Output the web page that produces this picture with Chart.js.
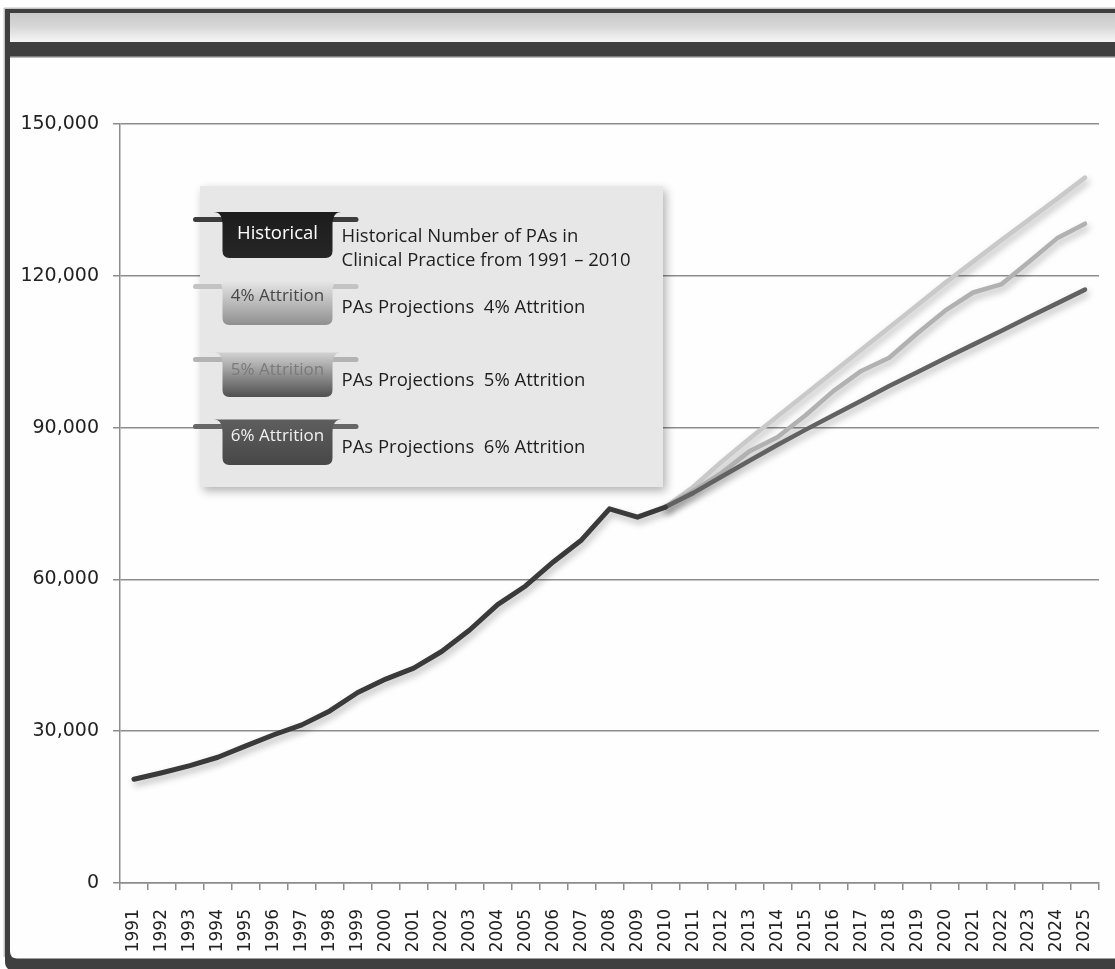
<!DOCTYPE html>
<html>
<head>
<meta charset="utf-8">
<script src="https://cdn.jsdelivr.net/npm/chart.js@4.4.1/dist/chart.umd.min.js"></script>
<style>
html,body{margin:0;padding:0;background:#fff;overflow:hidden}
#wrap{width:1115px;height:969px;position:relative}
</style>
</head>
<body>
<div id="wrap"><canvas id="c" width="1115" height="969"></canvas></div>
<script>
// ---- data ----
const years = ['1991','1992','1993','1994','1995','1996','1997','1998','1999','2000',
  '2001','2002','2003','2004','2005','2006','2007','2008','2009','2010',
  '2011','2012','2013','2014','2015','2016','2017','2018','2019','2020',
  '2021','2022','2023','2024','2025'];
// 1991 - 2010
const historicalValues = [20500, 21800, 23200, 24850, 27100, 29300, 31250, 34000, 37650, 40300,
  42450, 45750, 50000, 55000, 58700, 63500, 67800, 73950, 72300, 74300];
// 2010 - 2025
const projection4 = [74300, 78300, 83200, 87800, 92200, 96600, 101000, 105400, 109800, 114200,
  118600, 122800, 127000, 131100, 135200, 139400];
const projection5 = [74300, 77500, 81000, 85300, 88100, 92400, 97200, 101200, 103800, 108600,
  113100, 116700, 118300, 122800, 127400, 130300];
const projection6 = [74300, 77100, 80300, 83450, 86550, 89550, 92450, 95300, 98200, 100950,
  103700, 106400, 109100, 111850, 114550, 117270];
const yTicks = [0, 30000, 60000, 90000, 120000, 150000];
const legendTags = ['Historical', '4% Attrition', '5% Attrition', '6% Attrition'];
const legendTexts = [
  ['Historical Number of PAs in', 'Clinical Practice from 1991 \u2013 2010'],
  ['PAs Projections  4% Attrition'],
  ['PAs Projections  5% Attrition'],
  ['PAs Projections  6% Attrition']
];

// ---- build library data ----
const startIdx = years.indexOf('2010');
function pad(vals, start) {
  return years.map((y, i) => (i >= start && i - start < vals.length) ? vals[i - start] : null);
}
const histData = pad(historicalValues, 0);
const p4Data = pad(projection4, startIdx);
const p5Data = pad(projection5, startIdx);
const p6Data = pad(projection6, startIdx);

const W = 1115, H = 969;

const framePlugin = {
  id: 'frame',
  beforeDraw(chart) {
    const ctx = chart.ctx;
    ctx.save();
    ctx.fillStyle = '#ffffff';
    ctx.fillRect(0, 0, W, H);
    // faint outer edge
    ctx.fillStyle = '#c4c4c4';
    ctx.fillRect(4, 7.5, W, 1.5);
    ctx.fillRect(3.5, 8, 1.5, H - 20);
    // dark frame
    ctx.fillStyle = '#3f3f3f';
    ctx.beginPath();
    ctx.moveTo(5, 9);
    ctx.lineTo(W + 20, 9);
    ctx.lineTo(W + 20, H + 2);
    ctx.lineTo(15, H + 2);
    ctx.quadraticCurveTo(5, H + 2, 5, H - 8);
    ctx.closePath();
    ctx.fill();
    // gradient band
    const g = ctx.createLinearGradient(0, 13, 0, 42);
    g.addColorStop(0, '#c9c9c9');
    g.addColorStop(0.45, '#d6d6d6');
    g.addColorStop(1, '#f6f6f6');
    ctx.fillStyle = g;
    ctx.fillRect(10, 13, W, 29);
    // inner white area
    ctx.fillStyle = '#bdbdbd';
    ctx.fillRect(10, 56.5, W, 1.5);
    ctx.fillStyle = '#fefefe';
    ctx.beginPath();
    ctx.moveTo(10, 58);
    ctx.lineTo(W + 5, 58);
    ctx.lineTo(W + 5, 958.5);
    ctx.lineTo(17, 958.5);
    ctx.quadraticCurveTo(10, 958.5, 10, 951);
    ctx.closePath();
    ctx.fill();
    ctx.restore();
  }
};

const shadowPlugin = {
  id: 'lineShadow',
  beforeDatasetsDraw(chart) {
    const ctx = chart.ctx;
    ctx.save();
    ctx.shadowColor = 'rgba(0,0,0,0.28)';
    ctx.shadowBlur = 7;
    ctx.shadowOffsetX = 2;
    ctx.shadowOffsetY = 4;
  },
  afterDatasetsDraw(chart) {
    chart.ctx.restore();
  }
};

function potPath(ctx, L, R, top, bottom) {
  const r = 7;
  ctx.beginPath();
  ctx.moveTo(L - 9, top);
  ctx.lineTo(R + 9, top);
  ctx.quadraticCurveTo(R, top, R, top + 13);
  ctx.lineTo(R, bottom - r);
  ctx.quadraticCurveTo(R, bottom, R - r, bottom);
  ctx.lineTo(L + r, bottom);
  ctx.quadraticCurveTo(L, bottom, L, bottom - r);
  ctx.lineTo(L, top + 13);
  ctx.quadraticCurveTo(L, top, L - 9, top);
  ctx.closePath();
}

const legendPlugin = {
  id: 'potLegend',
  afterDraw(chart) {
    const ctx = chart.ctx;
    ctx.save();
    // legend box with shadow
    ctx.shadowColor = 'rgba(0,0,0,0.3)';
    ctx.shadowBlur = 9;
    ctx.shadowOffsetX = 3;
    ctx.shadowOffsetY = 4;
    ctx.fillStyle = '#e7e7e8';
    ctx.fillRect(200, 186, 463, 301);
    ctx.restore();

    const items = [
      {hy: 219.5, top: 212, bottom: 258, handle: '#3c3c3c', c1: '#1c1c1c', c2: '#262626', tc: '#ffffff', tb: 238.5, lb: [241.5, 266]},
      {hy: 286.5, top: 279.5, bottom: 325, handle: '#c3c3c3', c1: '#e9e9e9', c2: '#8f8f8f', tc: '#474747', tb: 301, lb: [313]},
      {hy: 359.5, top: 352.5, bottom: 397, handle: '#b3b3b3', c1: '#d2d2d2', c2: '#505050', tc: '#7a7a7a', tb: 375, lb: [386]},
      {hy: 426.5, top: 419.5, bottom: 465, handle: '#676767', c1: '#5e5e5e', c2: '#474747', tc: '#f2f2f2', tb: 441, lb: [453]}
    ];
    const L = 222.5, R = 332.5;
    items.forEach((it, i) => {
      // handle bar
      ctx.save();
      ctx.strokeStyle = it.handle;
      ctx.lineWidth = 5;
      ctx.lineCap = 'round';
      ctx.beginPath();
      ctx.moveTo(195.5, it.hy);
      ctx.lineTo(356, it.hy);
      ctx.stroke();
      // pot body
      const gr = ctx.createLinearGradient(0, it.top, 0, it.bottom);
      gr.addColorStop(0, it.c1);
      gr.addColorStop(1, it.c2);
      ctx.fillStyle = gr;
      potPath(ctx, L, R, it.top, it.bottom);
      ctx.fill();
      // tag text
      ctx.fillStyle = it.tc;
      ctx.font = (i === 0 ? '18.5px' : '17px') + ' "Open Sans", sans-serif';
      ctx.textAlign = 'center';
      ctx.textBaseline = 'alphabetic';
      ctx.fillText(legendTags[i], 277.5, it.tb);
      // description
      ctx.fillStyle = '#1e1e1e';
      ctx.font = '18.5px "Open Sans", sans-serif';
      ctx.textAlign = 'left';
      legendTexts[i].forEach((t, k) => ctx.fillText(t, 341.5, it.lb[k]));
      ctx.restore();
    });
  }
};

function noPad(s) { s.paddingLeft = 0; s.paddingRight = 0; s.paddingTop = 0; s.paddingBottom = 0; }

const gridColor = '#8c8c8c';
new Chart(document.getElementById('c').getContext('2d'), {
  type: 'line',
  data: {
    labels: years,
    datasets: [
      {label: legendTexts[0].join(' '), data: histData, borderColor: '#3a3a3a', borderWidth: 5, order: 1},
      {label: legendTexts[1][0], data: p4Data, borderColor: '#c9c9c9', borderWidth: 4.5, order: 4},
      {label: legendTexts[2][0], data: p5Data, borderColor: '#b1b1b1', borderWidth: 4.5, order: 3},
      {label: legendTexts[3][0], data: p6Data, borderColor: '#626262', borderWidth: 4.5, order: 2}
    ].map(d => Object.assign(d, {pointRadius: 0, tension: 0, fill: false, borderJoinStyle: 'round', borderCapStyle: 'round', spanGaps: false}))
  },
  options: {
    responsive: false,
    animation: false,
    devicePixelRatio: 1,
    layout: {padding: {left: 0, top: 124, right: 16, bottom: 0}},
    plugins: {legend: {display: false}, tooltip: {enabled: false}},
    scales: {
      x: {
        offset: true,
        grid: {offset: true, drawOnChartArea: false, drawTicks: true, tickLength: 7, color: gridColor, lineWidth: 1.5},
        border: {color: gridColor, width: 1.5},
        ticks: {autoSkip: false, minRotation: 90, maxRotation: 90, padding: 19, color: '#222',
          font: {family: '"DejaVu Sans", sans-serif', size: 17}},
        afterFit(s) { s.height = 86; noPad(s); }
      },
      y: {
        min: 0, max: 150000,
        afterBuildTicks(s) { s.ticks = yTicks.map(v => ({value: v})); },
        grid: {color: gridColor, lineWidth: 1.5, tickLength: 7},
        border: {color: gridColor, width: 1.5},
        ticks: {padding: 14, color: '#222', font: {family: '"DejaVu Sans", sans-serif', size: 19},
          callback: v => v.toLocaleString('en-US')},
        afterFit(s) { s.width = 120; noPad(s); }
      }
    }
  },
  plugins: [framePlugin, shadowPlugin, legendPlugin]
});
</script>
</body>
</html>
